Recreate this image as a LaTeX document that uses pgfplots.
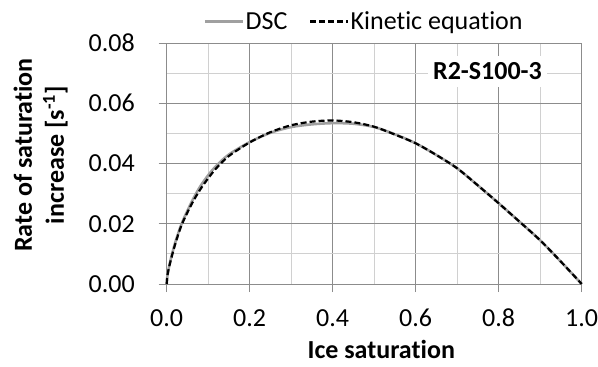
\documentclass[border=0pt]{standalone}
\usepackage{fontspec}
\setmainfont{Carlito}[Ligatures=NoCommon]
\usepackage{pgfplots}
\pgfplotsset{compat=1.18}
\definecolor{majgrid}{HTML}{8C8C8C}
\definecolor{mingrid}{HTML}{D0D0D0}
\definecolor{dscgray}{HTML}{A0A0A0}
\pgfplotstableread{
x y
0 0
0.002 0.0030
0.008 0.0072
0.02 0.0135
0.036 0.0200
0.06 0.0272
0.08 0.0322
0.1 0.0361
0.12 0.0393
0.15 0.0430
0.2 0.0471
0.25 0.0502
0.3 0.0521
0.35 0.0530
0.4 0.0534
0.45 0.0532
0.5 0.0521
0.55 0.0497
0.6 0.0467
0.65 0.0428
0.7 0.0384
0.75 0.0327
0.8 0.0268
0.85 0.0207
0.9 0.0145
0.95 0.0074
1.0 0
}\dsc
\pgfplotstableread{
x y
0 0
0.002 0.0030
0.008 0.0069
0.02 0.0130
0.036 0.0196
0.06 0.0265
0.08 0.0312
0.1 0.0351
0.12 0.0385
0.15 0.0425
0.2 0.0470
0.25 0.0504
0.3 0.0527
0.35 0.0539
0.4 0.0543
0.45 0.0537
0.5 0.0522
0.55 0.0496
0.6 0.0467
0.65 0.0428
0.7 0.0384
0.75 0.0327
0.8 0.0268
0.85 0.0207
0.9 0.0145
0.95 0.0074
1.0 0
}\kinetic
\begin{document}
\begin{tikzpicture}
\begin{axis}[
  scale only axis, width=415bp, height=241bp,
  xmin=0, xmax=1, ymin=0, ymax=0.08,
  xtick={0,0.2,0.4,0.6,0.8,1.0},
  ytick={0,0.02,0.04,0.06,0.08},
  scaled y ticks=false, scaled x ticks=false,
  minor x tick num=1, minor y tick num=1,
  grid=both,
  major grid style={majgrid, line width=1bp},
  minor grid style={mingrid, line width=1bp},
  axis line style={majgrid, line width=1bp},
  tick align=outside, xtick pos=bottom, ytick pos=left,
  major tick length=8bp, minor tick length=0pt,
  every tick/.style={majgrid, line width=1bp},
  /pgf/number format/assume math mode=true,
  tick label style={font=\fontsize{26bp}{31bp}\selectfont},
  xticklabel={\pgfmathprintnumber[fixed,fixed zerofill,precision=1]{\tick}},
  yticklabel={\pgfmathprintnumber[fixed,fixed zerofill,precision=2]{\tick}},
  x tick label style={anchor=north, inner sep=0pt, yshift=-17bp},
  y tick label style={anchor=east, inner sep=0pt, xshift=-23.7bp},
  xlabel={Ice saturation},
  ylabel={Rate of saturation\\increase [s\textsuperscript{-1}]},
  xlabel style={at={(axis description cs:0.517,-0.3083)}, anchor=base, font=\bfseries\fontsize{26bp}{32bp}\selectfont},
  ylabel style={at={(axis description cs:-0.3036,0.535)}, anchor=center, align=center, font=\bfseries\fontsize{26bp}{32bp}\selectfont},
  legend columns=2,
  legend style={draw=none, fill=none, at={(axis description cs:0.475,1.0892)}, anchor=center,
    font=\fontsize{26bp}{31bp}\selectfont, nodes={inner sep=1.5bp},
    /tikz/every even column/.append style={column sep=20bp}},
  legend image code/.code={\draw[#1] (0bp,0bp) -- (38bp,0bp);},
  clip=false,
]
\addplot[dscgray, line width=2.6bp, smooth] table[x=x,y=y] {\dsc};
\addlegendentry{DSC}
\addplot[black, line width=2.2bp, dash pattern=on 6bp off 3bp, smooth] table[x=x,y=y] {\kinetic};
\addlegendentry{Kinetic equation}
\node[fill=white, inner xsep=5bp, inner ysep=7bp, font=\bfseries\fontsize{26bp}{31bp}\selectfont] at (axis cs:0.773,0.0706) {R2-S100-3};
\end{axis}
\pgfresetboundingbox
\useasboundingbox (-166.7bp,-83bp) rectangle (431.3bp,284bp);
\end{tikzpicture}
\end{document}
